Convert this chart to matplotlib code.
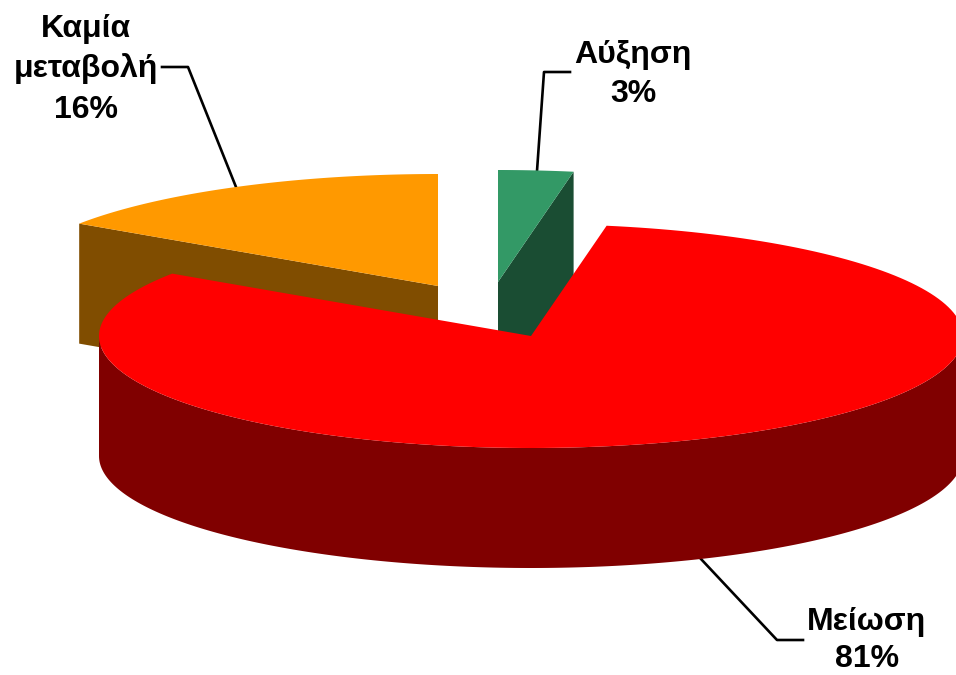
import numpy as np
import matplotlib
matplotlib.use('Agg')
import matplotlib.pyplot as plt
from matplotlib.patches import Polygon

# Slice data (shares, labels as printed)
categories = ['Αύξηση', 'Μείωση', 'Καμία\nμεταβολή']
shares = [2.8, 81.6, 15.6]
percent_labels = ['3%', '81%', '16%']
top_colors = ['#339966', '#FF0000', '#FF9900']
side_colors = ['#1A4D33', '#800000', '#804D00']

# Pie geometry in pixels
rx = 432
ry = 112
depth = 120
centers = [(498, 282), (531, 336), (438, 286)]

plt.rcParams['font.family'] = ['Liberation Sans', 'DejaVu Sans']

fig = plt.figure(figsize=(9.56, 6.75), dpi=100)
ax = fig.add_axes([0, 0, 1, 1])
ax.set_xlim(0, 956)
ax.set_ylim(675, 0)
ax.axis('off')


def rim(cx, cy, a0, a1, n=200):
    # angles are degrees clockwise from the top of the pie
    t = np.radians(np.linspace(a0, a1, n))
    return np.column_stack([cx + rx * np.sin(t), cy - ry * np.cos(t)])


# Slice angles from the shares
edges = np.concatenate([[0], np.cumsum(shares)]) * 3.6
green, red, orange = 0, 1, 2

# Back slices first: orange and green with their cut faces
for i, end in [(orange, edges[orange]), (green, edges[green + 1])]:
    cx, cy = centers[i]
    tip = rim(cx, cy, end, end, 1)[0]
    face = [(cx, cy), tip, (tip[0], tip[1] + depth), (cx, cy + depth)]
    ax.add_patch(Polygon(face, closed=True, fc=side_colors[i], ec='none', zorder=2))
    top = np.vstack([[centers[i]], rim(cx, cy, edges[i], edges[i + 1])])
    ax.add_patch(Polygon(top, closed=True, fc=top_colors[i], ec='none', zorder=3))

# Big red slice: outer wall then top
cx, cy = centers[red]
wall_top = rim(cx, cy, 90, 270)
wall_bottom = wall_top[::-1] + [0, depth]
ax.add_patch(Polygon(np.vstack([wall_top, wall_bottom]), closed=True,
                     fc=side_colors[red], ec='none', zorder=4))
top = np.vstack([[centers[red]], rim(cx, cy, edges[red], edges[red + 1])])
ax.add_patch(Polygon(top, closed=True, fc=top_colors[red], ec='none', zorder=5))

# Leader lines
ax.plot([537, 544, 570], [171, 72, 72], color='black', lw=1.9, zorder=1)
ax.plot([162, 188, 236], [67, 67, 187], color='black', lw=1.9, zorder=1)
ax.plot([701, 777, 803], [559, 640, 640], color='black', lw=1.9, zorder=1)

# Labels, one text per line
label_x = [633, 867, 86]
label_y = [[55, 94], [622, 659], [29, 69, 110]]
for i, name in enumerate(categories):
    lines = name.split('\n') + [percent_labels[i]]
    for line, y in zip(lines, label_y[i]):
        ax.text(label_x[i], y, line, ha='center', va='center',
                fontsize=23, fontweight='bold', color='black', zorder=6)

fig.savefig('out.png', dpi=100, facecolor='white')
